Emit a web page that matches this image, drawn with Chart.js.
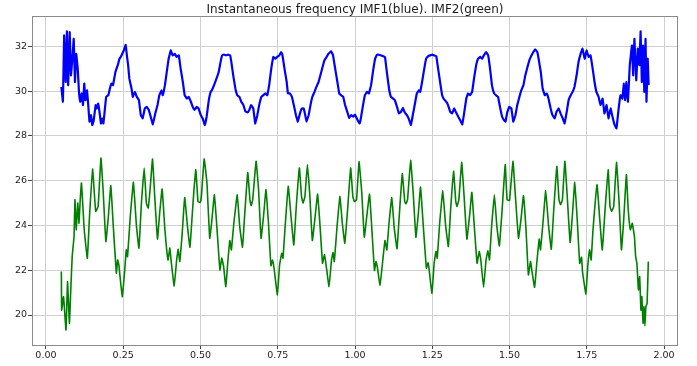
<!DOCTYPE html>
<html>
<head>
<meta charset="utf-8">
<script src="https://cdn.jsdelivr.net/npm/chart.js@4/dist/chart.umd.min.js"></script>
<style>
  html, body { margin: 0; padding: 0; background: #fff; }
  canvas { display: block; }
</style>
</head>
<body>
<canvas id="freqChart" width="697" height="366"></canvas>
<script>
const chartTitle = 'Instantaneous frequency IMF1(blue). IMF2(green)';

const xTicks = [0, 0.25, 0.5, 0.75, 1, 1.25, 1.5, 1.75, 2];
const xTickLabels = ['0.00', '0.25', '0.50', '0.75', '1.00', '1.25', '1.50', '1.75', '2.00'];
const yTicks = [20, 22, 24, 26, 28, 30, 32];
const yTickLabels = ['20', '22', '24', '26', '28', '30', '32'];

// IMF1 instantaneous frequency (blue)
const imf1T = [
  0.050, 0.055, 0.059, 0.064, 0.068, 0.072, 0.077, 0.081, 0.086, 0.090,
  0.094, 0.098, 0.103, 0.107, 0.111, 0.116, 0.120, 0.124, 0.128, 0.133,
  0.137, 0.141, 0.146, 0.150, 0.154, 0.161, 0.165, 0.169, 0.174, 0.178,
  0.182, 0.186, 0.191, 0.195, 0.202, 0.207, 0.212, 0.217, 0.225, 0.234,
  0.238, 0.242, 0.247, 0.252, 0.258, 0.262, 0.266, 0.270, 0.277, 0.281,
  0.288, 0.294, 0.301, 0.307, 0.313, 0.320, 0.326, 0.333, 0.339, 0.346,
  0.354, 0.361, 0.367, 0.374, 0.378, 0.385, 0.391, 0.397, 0.404, 0.410,
  0.417, 0.423, 0.430, 0.436, 0.443, 0.449, 0.456, 0.462, 0.469, 0.475,
  0.481, 0.488, 0.494, 0.501, 0.507, 0.514, 0.520, 0.527, 0.533, 0.537,
  0.544, 0.550, 0.559, 0.565, 0.570, 0.576, 0.583, 0.589, 0.596, 0.600,
  0.606, 0.613, 0.619, 0.626, 0.632, 0.639, 0.645, 0.652, 0.658, 0.664,
  0.671, 0.677, 0.684, 0.690, 0.697, 0.703, 0.710, 0.716, 0.723, 0.729,
  0.736, 0.742, 0.748, 0.755, 0.761, 0.765, 0.772, 0.779, 0.783, 0.789,
  0.796, 0.802, 0.809, 0.815, 0.822, 0.828, 0.834, 0.839, 0.843, 0.850,
  0.856, 0.862, 0.869, 0.875, 0.882, 0.888, 0.895, 0.901, 0.908, 0.914,
  0.923, 0.929, 0.936, 0.943, 0.949, 0.955, 0.962, 0.968, 0.975, 0.981,
  0.988, 0.994, 1.000, 1.011, 1.015, 1.019, 1.026, 1.032, 1.039, 1.045,
  1.052, 1.058, 1.065, 1.071, 1.078, 1.084, 1.090, 1.097, 1.103, 1.110,
  1.116, 1.123, 1.129, 1.136, 1.142, 1.149, 1.155, 1.161, 1.168, 1.174,
  1.181, 1.187, 1.194, 1.200, 1.207, 1.211, 1.217, 1.224, 1.230, 1.237,
  1.243, 1.250, 1.256, 1.263, 1.269, 1.276, 1.282, 1.288, 1.295, 1.301,
  1.308, 1.314, 1.321, 1.327, 1.334, 1.340, 1.347, 1.353, 1.360, 1.366,
  1.372, 1.379, 1.385, 1.392, 1.398, 1.405, 1.411, 1.418, 1.424, 1.431,
  1.437, 1.443, 1.450, 1.456, 1.463, 1.469, 1.476, 1.482, 1.487, 1.493,
  1.499, 1.506, 1.512, 1.519, 1.525, 1.532, 1.538, 1.545, 1.551, 1.558,
  1.564, 1.571, 1.577, 1.583, 1.590, 1.594, 1.601, 1.607, 1.614, 1.620,
  1.626, 1.633, 1.639, 1.646, 1.652, 1.659, 1.665, 1.672, 1.678, 1.685,
  1.691, 1.698, 1.704, 1.710, 1.717, 1.723, 1.730, 1.736, 1.743, 1.749,
  1.756, 1.762, 1.769, 1.775, 1.781, 1.788, 1.794, 1.801, 1.807, 1.814,
  1.820, 1.827, 1.833, 1.840, 1.846, 1.853, 1.859, 1.865, 1.870, 1.874,
  1.878, 1.883, 1.889, 1.896, 1.900, 1.904, 1.910, 1.915, 1.920, 1.924,
  1.928, 1.932, 1.936, 1.940, 1.943, 1.947, 1.950
];
const imf1F = [
  30.19, 29.53, 32.49, 30.41, 32.67, 30.27, 32.64, 30.71, 31.53, 32.34,
  30.41, 31.67, 31.00, 29.97, 29.53, 29.90, 29.38, 30.34, 29.60, 30.04,
  29.38, 28.64, 28.93, 28.49, 28.64, 29.38, 29.23, 29.45, 29.01, 28.56,
  28.79, 28.56, 29.23, 29.75, 29.82, 30.12, 30.34, 30.27, 30.86, 31.23,
  31.45, 31.53, 31.67, 31.82, 32.07, 31.60, 31.16, 30.56, 30.12, 29.75,
  29.97, 29.75, 29.60, 28.93, 28.79, 29.23, 29.30, 29.16, 28.86, 28.52,
  29.01, 29.38, 29.82, 30.04, 29.82, 30.27, 30.86, 31.45, 31.82, 31.60,
  31.67, 31.53, 31.60, 31.00, 30.41, 29.82, 29.67, 29.75, 29.53, 29.30,
  29.16, 29.30, 29.23, 28.93, 28.79, 28.49, 28.86, 29.60, 29.97, 30.04,
  30.27, 30.49, 30.86, 31.30, 31.60, 31.63, 31.60, 31.63, 31.60, 31.30,
  30.71, 30.12, 29.82, 29.75, 29.53, 29.38, 29.11, 29.05, 29.16, 29.38,
  29.23, 28.56, 28.93, 29.38, 29.75, 29.82, 29.90, 29.82, 30.34, 31.00,
  31.53, 31.45, 31.53, 31.60, 31.75, 31.63, 31.00, 30.41, 29.90, 29.90,
  29.75, 29.38, 28.93, 28.64, 29.01, 29.23, 29.23, 28.93, 28.64, 28.93,
  29.38, 29.75, 29.97, 30.19, 30.41, 30.71, 31.08, 31.38, 31.53, 31.67,
  31.78, 31.60, 31.00, 30.41, 29.90, 29.82, 29.75, 29.38, 29.08, 28.81,
  28.93, 28.86, 28.95, 28.64, 28.56, 28.79, 29.38, 29.82, 29.97, 29.90,
  30.27, 30.86, 31.45, 31.63, 31.63, 31.60, 31.57, 31.53, 30.86, 30.12,
  29.75, 29.67, 29.60, 29.30, 29.01, 29.08, 29.26, 29.05, 28.93, 28.76,
  28.49, 28.93, 29.45, 29.90, 30.04, 29.97, 30.41, 31.00, 31.45, 31.57,
  31.60, 31.63, 31.60, 31.57, 31.00, 30.34, 29.82, 29.64, 29.53, 29.38,
  29.08, 29.01, 29.23, 29.05, 28.86, 28.71, 28.52, 29.01, 29.67, 29.90,
  29.82, 29.97, 30.56, 31.16, 31.45, 31.53, 31.45, 31.63, 31.75, 31.60,
  31.00, 30.27, 29.90, 29.82, 29.75, 29.30, 28.86, 28.71, 28.64, 29.08,
  29.30, 29.23, 28.64, 28.93, 29.38, 29.75, 30.04, 30.27, 30.71, 31.08,
  31.38, 31.60, 31.75, 31.87, 31.75, 31.45, 30.86, 30.12, 29.82, 29.90,
  29.67, 29.23, 28.93, 28.79, 29.08, 29.23, 29.01, 28.79, 28.56, 29.08,
  29.60, 29.82, 29.97, 30.19, 30.71, 31.30, 31.67, 31.90, 31.45, 31.82,
  31.53, 31.60, 31.00, 30.41, 29.97, 29.75, 29.38, 29.67, 29.01, 29.38,
  28.79, 29.23, 28.86, 28.49, 28.34, 29.23, 29.82, 29.67, 30.34, 29.60,
  30.41, 29.53, 31.16, 32.04, 30.71, 32.34, 30.49, 31.90, 31.16, 32.67,
  30.41, 32.04, 29.97, 32.34, 29.53, 31.45, 30.27
];

// IMF2 instantaneous frequency (green)
const imf2T = [
  0.050, 0.051, 0.057, 0.065, 0.070, 0.076, 0.080, 0.085, 0.091, 0.094,
  0.098, 0.103, 0.107, 0.111, 0.115, 0.124, 0.134, 0.141, 0.151, 0.161,
  0.169, 0.178, 0.185, 0.194, 0.202, 0.210, 0.218, 0.228, 0.232, 0.236,
  0.247, 0.255, 0.260, 0.264, 0.273, 0.283, 0.293, 0.301, 0.309, 0.318,
  0.325, 0.331, 0.337, 0.345, 0.352, 0.361, 0.368, 0.376, 0.385, 0.395,
  0.401, 0.406, 0.415, 0.423, 0.428, 0.433, 0.441, 0.449, 0.458, 0.466,
  0.473, 0.479, 0.485, 0.492, 0.499, 0.503, 0.512, 0.521, 0.530, 0.537,
  0.545, 0.553, 0.563, 0.569, 0.575, 0.582, 0.589, 0.595, 0.600, 0.608,
  0.619, 0.627, 0.636, 0.642, 0.653, 0.660, 0.664, 0.669, 0.680, 0.688,
  0.696, 0.704, 0.712, 0.720, 0.728, 0.733, 0.738, 0.749, 0.756, 0.763,
  0.767, 0.774, 0.784, 0.793, 0.802, 0.810, 0.820, 0.827, 0.832, 0.838,
  0.846, 0.854, 0.862, 0.871, 0.879, 0.887, 0.895, 0.901, 0.905, 0.916,
  0.924, 0.929, 0.933, 0.942, 0.951, 0.959, 0.967, 0.976, 0.986, 0.993,
  0.998, 1.005, 1.013, 1.022, 1.030, 1.038, 1.047, 1.054, 1.063, 1.068,
  1.072, 1.081, 1.090, 1.097, 1.103, 1.110, 1.119, 1.127, 1.136, 1.143,
  1.153, 1.161, 1.165, 1.170, 1.180, 1.189, 1.197, 1.205, 1.212, 1.221,
  1.231, 1.236, 1.239, 1.249, 1.256, 1.262, 1.266, 1.274, 1.284, 1.293,
  1.302, 1.310, 1.319, 1.326, 1.330, 1.336, 1.345, 1.353, 1.362, 1.371,
  1.378, 1.386, 1.395, 1.402, 1.407, 1.416, 1.424, 1.430, 1.435, 1.442,
  1.451, 1.459, 1.467, 1.476, 1.486, 1.492, 1.500, 1.511, 1.519, 1.529,
  1.538, 1.545, 1.553, 1.561, 1.568, 1.572, 1.581, 1.589, 1.596, 1.600,
  1.608, 1.617, 1.626, 1.635, 1.643, 1.653, 1.660, 1.665, 1.671, 1.679,
  1.686, 1.696, 1.703, 1.711, 1.719, 1.727, 1.733, 1.736, 1.747, 1.753,
  1.759, 1.764, 1.770, 1.783, 1.792, 1.800, 1.809, 1.819, 1.825, 1.830,
  1.837, 1.846, 1.854, 1.862, 1.869, 1.878, 1.884, 1.891, 1.897, 1.904,
  1.908, 1.912, 1.917, 1.921, 1.925, 1.928, 1.932, 1.935, 1.938, 1.941,
  1.945, 1.949
];
const imf2F = [
  21.94, 20.22, 20.82, 19.33, 21.49, 19.63, 20.97, 22.61, 23.51, 25.15,
  23.81, 25.00, 24.10, 25.15, 25.90, 23.81, 22.54, 24.40, 26.52, 24.63,
  24.85, 27.01, 25.60, 23.28, 24.40, 25.78, 23.96, 21.87, 22.46, 22.24,
  20.82, 22.01, 22.91, 22.61, 24.40, 25.93, 23.96, 22.99, 25.00, 26.57,
  25.00, 24.78, 25.60, 26.97, 25.30, 23.39, 24.55, 25.63, 23.81, 22.46,
  22.99, 22.31, 21.30, 22.46, 22.94, 22.39, 23.66, 25.25, 23.96, 23.03,
  24.40, 25.60, 26.49, 25.07, 25.03, 25.30, 26.97, 25.90, 23.43, 24.25,
  25.37, 23.96, 22.01, 22.54, 22.16, 21.27, 22.46, 23.33, 22.91, 24.10,
  25.37, 23.96, 23.03, 24.25, 26.37, 25.15, 24.88, 25.15, 26.87, 25.60,
  23.43, 24.40, 25.60, 24.10, 22.20, 22.45, 22.10, 20.90, 22.24, 22.76,
  22.54, 23.96, 25.75, 24.40, 23.13, 24.85, 26.57, 25.30, 25.00, 25.30,
  26.72, 25.30, 23.33, 24.40, 25.40, 23.96, 22.31, 22.69, 22.39, 21.27,
  22.46, 22.79, 22.39, 23.96, 25.30, 24.10, 23.21, 24.70, 26.57, 25.30,
  25.07, 25.15, 26.85, 25.45, 23.48, 24.40, 25.40, 23.96, 21.99, 22.39,
  22.16, 21.34, 22.46, 23.33, 22.91, 24.10, 25.25, 23.88, 22.96, 24.40,
  26.31, 25.07, 24.97, 25.15, 26.91, 25.30, 23.48, 24.55, 25.72, 23.96,
  22.09, 22.34, 22.13, 20.97, 22.31, 22.84, 22.54, 24.10, 25.55, 24.03,
  23.06, 24.85, 26.42, 25.07, 24.85, 25.15, 26.82, 25.30, 23.39, 24.48,
  25.48, 23.96, 22.31, 22.84, 22.46, 21.24, 22.46, 22.88, 22.46, 23.96,
  25.37, 23.96, 23.09, 24.70, 26.72, 25.15, 25.12, 26.87, 25.30, 23.43,
  24.40, 25.33, 23.88, 21.79, 22.39, 22.01, 21.24, 22.46, 23.39, 22.91,
  24.10, 25.55, 24.03, 22.94, 24.70, 26.64, 25.15, 24.93, 25.15, 26.87,
  25.45, 23.24, 24.40, 25.93, 24.25, 22.31, 22.58, 21.94, 20.94, 22.16,
  22.91, 22.46, 23.81, 25.82, 24.25, 22.91, 24.70, 26.49, 24.85, 24.63,
  24.85, 26.82, 25.15, 22.91, 24.18, 26.27, 24.70, 23.81, 24.10, 23.51,
  22.61, 22.31, 21.12, 21.72, 20.22, 20.82, 19.63, 20.37, 19.51, 20.37,
  20.52, 22.39
];

const toPoints = (ts, vs) => ts.map((t, i) => ({ x: t, y: vs[i] }));

// box around the plot area plus the title above it
const framePlugin = {
  id: 'frame',
  afterDraw(chart) {
    const { ctx, chartArea: a } = chart;
    ctx.save();
    ctx.strokeStyle = '#8a8a8a';
    ctx.lineWidth = 1;
    ctx.strokeRect(a.left + 0.5, a.top + 0.5, a.right - a.left - 1, a.bottom - a.top);
    ctx.fillStyle = '#1a1a1a';
    ctx.font = '12px "DejaVu Sans"';
    ctx.textAlign = 'center';
    ctx.textBaseline = 'alphabetic';
    ctx.fillText(chartTitle, (a.left + a.right) / 2, 12.5);
    ctx.restore();
  }
};

const tickFont = { family: 'DejaVu Sans', size: 9.5 };
const gridStyle = { color: '#d0d0d0', lineWidth: 1, tickLength: 4, tickColor: '#444' };

new Chart(document.getElementById('freqChart'), {
  type: 'scatter',
  data: {
    datasets: [
      {
        label: 'IMF1',
        data: toPoints(imf1T, imf1F),
        showLine: true,
        borderColor: '#0000ff',
        borderWidth: 2.2,
        pointRadius: 0,
        tension: 0.05
      },
      {
        label: 'IMF2',
        data: toPoints(imf2T, imf2F),
        showLine: true,
        borderColor: '#008000',
        borderWidth: 1.6,
        pointRadius: 0,
        tension: 0.1
      }
    ]
  },
  options: {
    responsive: false,
    animation: false,
    events: [],
    layout: { padding: { left: 0, right: 19, top: 16, bottom: 0 } },
    plugins: { legend: { display: false }, tooltip: { enabled: false } },
    scales: {
      x: {
        type: 'linear',
        min: -0.045,
        max: 2.045,
        afterBuildTicks: s => { s.ticks = xTicks.map(v => ({ value: v })); },
        afterFit: s => { s.height = 21; },
        ticks: {
          font: tickFont, color: '#222', padding: 1, maxRotation: 0, autoSkip: false,
          callback: (v, i) => xTickLabels[i]
        },
        grid: gridStyle,
        border: { display: false }
      },
      y: {
        type: 'linear',
        min: 18.66,
        max: 33.36,
        afterBuildTicks: s => { s.ticks = yTicks.map(v => ({ value: v })); },
        afterFit: s => { s.width = 32; },
        ticks: {
          font: tickFont, color: '#222', padding: 1, autoSkip: false,
          callback: (v, i) => yTickLabels[i]
        },
        grid: gridStyle,
        border: { display: false }
      }
    }
  },
  plugins: [framePlugin]
});
</script>
</body>
</html>
